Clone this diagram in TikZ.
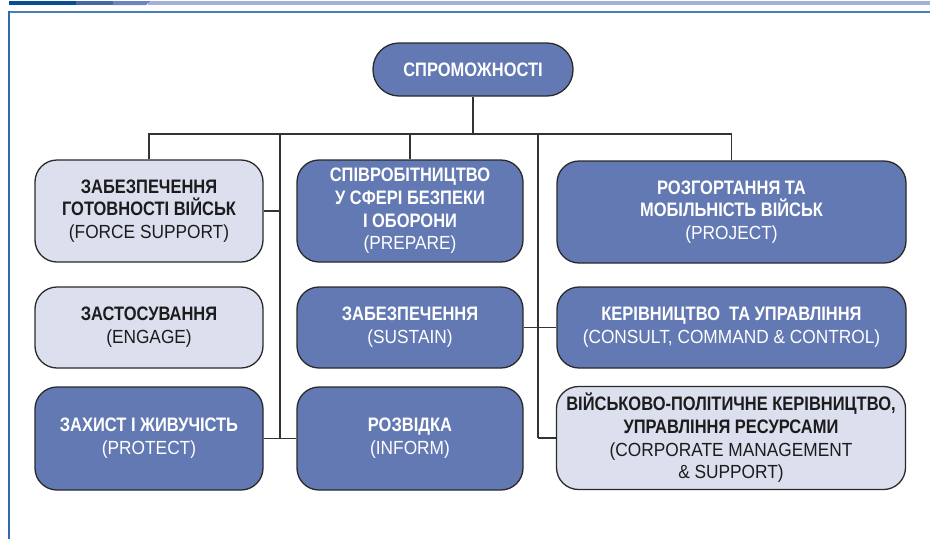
\documentclass[tikz,border=0pt]{standalone}
\usepackage{fontspec}
\setmainfont{Liberation Sans}
\newfontfamily\bfam{Liberation Sans Bold}[FakeStretch=0.845]
\newfontfamily\rfam{Liberation Sans}[FakeStretch=0.91]
\definecolor{darkfill}{HTML}{6379B3}
\definecolor{lightfill}{HTML}{DCDFEE}
\definecolor{edge}{HTML}{2A2A2A}
\definecolor{linec}{HTML}{333333}
\definecolor{txtdark}{HTML}{1C1C1C}
\definecolor{bar1}{HTML}{0B4C94}
\definecolor{bar2}{HTML}{4468A8}
\definecolor{bar3}{HTML}{6C84BF}
\definecolor{bar4}{HTML}{A5B0D8}
\definecolor{frametop}{HTML}{4A7FB5}
\definecolor{frameleft}{HTML}{2F6AAA}
\newcommand{\B}[1]{{\bfam\fontsize{19.5}{22.7}\selectfont #1}}
\newcommand{\R}[1]{{\rfam\fontsize{19}{22.7}\selectfont #1}}
\begin{document}
\begin{tikzpicture}[x=1pt,y=-1pt,
  box/.style={draw=edge, line width=1.3pt, rounded corners=22pt, align=center,
    inner sep=0pt, font=\fontsize{19}{22.7}\selectfont},
  darkbox/.style={box, fill=darkfill, text=white},
  lightbox/.style={box, fill=lightfill, text=txtdark},
  colL/.style={minimum width=228pt},
  colM/.style={minimum width=226pt},
  colR/.style={minimum width=349pt},
  rowT/.style={minimum height=102pt},
  rowM/.style={minimum height=81pt},
  rowB/.style={minimum height=103pt},
  conn/.style={draw=linec, line width=1.4pt}]
\useasboundingbox (0,0) rectangle (930,539);
% top bar
\fill[bar4] (148,1) rectangle (930,5);
\fill[bar3] (113,1) -- (150,1) -- (146,5) -- (113,5) -- cycle;
\fill[bar2] (76,1) rectangle (113,5);
\fill[bar1] (9,1) rectangle (76,5);
% frame
\draw[frametop, line width=2pt] (9,11.5) -- (930,11.5);
\draw[frameleft, line width=1.5pt] (9,11) -- (9,539);

\node[darkbox, minimum width=200pt, minimum height=53pt, rounded corners=26pt] (top) at (473,69.5) {\B{СПРОМОЖНОСТІ}};

\node[lightbox, colL, rowT] (fs) at (149,211) {\B{ЗАБЕЗПЕЧЕННЯ}\\\B{ГОТОВНОСТІ ВІЙСЬК}\\\R{(FORCE SUPPORT)}};
\node[darkbox, colM, rowT] (prep) at (410,211) {\B{СПІВРОБІТНИЦТВО}\\\B{У СФЕРІ БЕЗПЕКИ}\\\B{І ОБОРОНИ}\\\R{(PREPARE)}};
\node[darkbox, colR, rowT] (proj) at (731.5,212) {\B{РОЗГОРТАННЯ ТА}\\\B{МОБІЛЬНІСТЬ ВІЙСЬК}\\\R{(PROJECT)}};

\node[lightbox, colL, rowM] (eng) at (149,327.5) {\B{ЗАСТОСУВАННЯ}\\\R{(ENGAGE)}};
\node[darkbox, colM, rowM] (sus) at (410,327.5) {\B{ЗАБЕЗПЕЧЕННЯ}\\\R{(SUSTAIN)}};
\node[darkbox, colR, rowM] (c3) at (731.5,327.5) {\B{КЕРІВНИЦТВО\ \ ТА УПРАВЛІННЯ}\\\R{(CONSULT, COMMAND \& CONTROL)}};

\node[darkbox, colL, rowB] (prot) at (149,438.5) {\B{ЗАХИСТ І ЖИВУЧІСТЬ}\\\R{(PROTECT)}};
\node[darkbox, colM, rowB] (inf) at (410,438.5) {\B{РОЗВІДКА}\\\R{(INFORM)}};
\node[lightbox, colR, rowB] (cms) at (731,438) {\B{ВІЙСЬКОВО-ПОЛІТИЧНЕ КЕРІВНИЦТВО,}\\\B{УПРАВЛІННЯ РЕСУРСАМИ}\\\R{(CORPORATE MANAGEMENT}\\\R{\& SUPPORT)}};

\coordinate (bus) at (474,134);
\coordinate (ll) at (280,134);
\coordinate (rl) at (538,134);

\draw[conn] (top.south) -- (top.south |- bus);
\draw[conn] (fs.north) -- (fs.north |- bus) -| (proj.north);
\draw[conn] (prep.north) -- (prep.north |- bus);
\draw[conn] (ll) -- (ll |- prot.east);
\draw[conn] (rl) -- (rl |- cms.west);
\draw[conn] (fs.east) -- (fs.east -| ll);
\draw[conn] (prot.east) -- (inf.west);
\draw[conn] (sus.east) -- (c3.west);
\draw[conn] (cms.west) -- (cms.west -| rl);
\end{tikzpicture}
\end{document}
